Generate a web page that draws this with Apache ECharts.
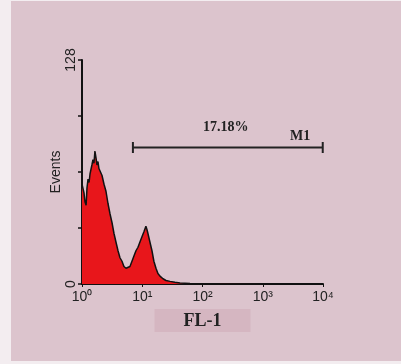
<!DOCTYPE html>
<html>
<head>
<meta charset="utf-8">
<script src="https://cdn.jsdelivr.net/npm/echarts@6/dist/echarts.min.js"></script>
<style>
  html, body { margin: 0; padding: 0; background: #f3edf0; }
  #main { width: 401px; height: 364px; }
</style>
</head>
<body>
<div id="main"></div>
<script>
// FL-1 channel (log scale) and event counts
var fl1 = [1.0, 1.04, 1.08, 1.12, 1.17, 1.21, 1.26, 1.31, 1.36, 1.41, 1.46, 1.52, 1.58, 1.64, 1.71,
           1.77, 1.84, 1.91, 1.99, 2.15, 2.32, 2.5, 2.7, 2.92, 3.15, 3.39, 3.66, 3.96, 4.27, 4.61,
           4.97, 5.37, 5.79, 6.25, 6.75, 7.28, 7.86, 8.49, 9.16, 9.89, 10.7, 11.5, 12.0, 12.4,
           13.4, 14.5, 15.6, 16.9, 18.2, 19.7, 22.1, 24.8, 28.9, 34.9, 42.3, 62, 90, 194, 1000, 10000];
var events = [57, 58, 52, 47, 45, 55, 60, 58, 63, 62, 68, 71, 69, 76, 72,
              68, 70, 66, 66, 62, 57, 53, 46, 40, 35, 29, 24, 19, 15, 13,
              10, 9, 8, 10, 13, 16, 19, 21, 24, 27, 30, 33, 31, 29,
              24, 19, 13, 9, 6, 4.5, 3, 2, 1.5, 1, 0.6, 0.3, 0.2, 0.1, 0, 0];
var xTicks = ['10⁰', '10¹', '10²', '10³', '10⁴'];
var gateM1 = [7.0, 9900];
var gateLevel = 78;
var gatePct = '17.18%';
var gateName = 'M1';

var hist = fl1.map(function (v, i) { return [v, events[i]]; });

var chart = echarts.init(document.getElementById('main'));
chart.setOption({
  backgroundColor: '#f3edf0',
  animation: false,
  grid: { left: 82, right: 78, top: 60, bottom: 80 },
  xAxis: {
    type: 'log',
    logBase: 10,
    min: 1,
    max: 10000,
    name: 'FL-1',
    nameLocation: 'middle',
    nameGap: 21,
    nameTextStyle: {
      fontFamily: 'Liberation Serif', fontWeight: 'bold', fontSize: 18, color: '#222',
      backgroundColor: '#d5b6c1', padding: [3, 29, 2, 29]
    },
    axisLine: { lineStyle: { color: '#111', width: 2 } },
    axisTick: { show: true, length: 3, lineStyle: { color: '#111' } },
    minorTick: { show: false },
    splitLine: { show: false },
    axisLabel: {
      fontFamily: 'Liberation Sans', fontSize: 14, color: '#222', margin: 6,
      formatter: function (v) { return xTicks[Math.round(Math.log10(v))]; }
    }
  },
  yAxis: {
    type: 'value',
    min: 0,
    max: 128,
    interval: 32,
    name: 'Events',
    nameLocation: 'middle',
    nameGap: 19,
    nameRotate: 90,
    nameMoveOverlap: false,
    nameTextStyle: { fontFamily: 'Liberation Sans', fontSize: 14, color: '#222' },
    axisLine: { show: true, lineStyle: { color: '#111', width: 2 } },
    axisTick: { show: true, length: 4, lineStyle: { color: '#111', width: 1.5 } },
    splitLine: { show: false },
    axisLabel: {
      rotate: 90, fontFamily: 'Liberation Sans', fontSize: 14, color: '#222', margin: 4,
      formatter: function (v) { return (v === 0 || v === 128) ? String(v) : ''; }
    }
  },
  series: [
    {
      type: 'line',
      data: hist,
      showSymbol: false,
      lineStyle: { color: '#111', width: 1.5 },
      areaStyle: { color: '#e8161b', opacity: 1 }
    },
    {
      type: 'line',
      data: [[gateM1[0], gateLevel], [gateM1[1], gateLevel]],
      symbol: 'rect',
      symbolSize: [2, 11],
      itemStyle: { color: '#222' },
      lineStyle: { color: '#222', width: 2 }
    }
  ],
  graphic: [
    { type: 'rect', z: -10, silent: true, shape: { x: 11, y: 1, width: 390, height: 360 },
      style: { fill: '#dcc4cd' } },
    { type: 'text', left: 203, top: 120,
      style: { text: gatePct, font: 'bold 14px "Liberation Serif"', fill: '#222' } },
    { type: 'text', left: 290, top: 129,
      style: { text: gateName, font: 'bold 14px "Liberation Serif"', fill: '#222' } }
  ]
});
</script>
</body>
</html>
